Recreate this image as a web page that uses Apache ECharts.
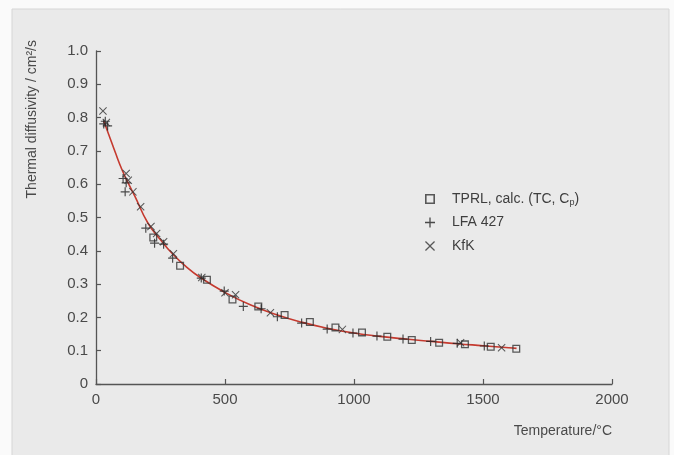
<!DOCTYPE html>
<html>
<head>
<meta charset="utf-8">
<script src="https://cdn.jsdelivr.net/npm/echarts@6/dist/echarts.min.js"></script>
<style>
html,body{margin:0;padding:0;background:#fafafa;}
#c{width:674px;height:455px;}
</style>
</head>
<body>
<div id="c"></div>
<script>
// ---- data (temperature °C, thermal diffusivity cm²/s) ----
const tprl = [[222,0.44],[326,0.355],[430,0.313],[529,0.254],[629,0.233],[731,0.207],[829,0.186],[928,0.170],[1031,0.155],[1129,0.142],[1224,0.132],[1330,0.124],[1430,0.119],[1530,0.112],[1629,0.106]];
const lfa = [[30,0.781],[36,0.789],[45,0.775],[105,0.617],[117,0.604],[113,0.577],[193,0.468],[227,0.423],[262,0.420],[297,0.378],[408,0.318],[497,0.279],[571,0.233],[640,0.226],[703,0.202],[797,0.183],[896,0.165],[996,0.153],[1089,0.144],[1190,0.135],[1297,0.128],[1400,0.122],[1505,0.114]];
const kfk = [[27,0.820],[40,0.785],[117,0.632],[125,0.612],[143,0.577],[173,0.532],[213,0.473],[235,0.452],[262,0.427],[300,0.391],[410,0.320],[500,0.274],[541,0.268],[676,0.214],[955,0.164],[1413,0.124],[1572,0.109]];
const fit = [[30,0.790],[50,0.748],[75,0.695],[100,0.645],[125,0.603],[150,0.565],[200,0.485],[250,0.433],[300,0.388],[350,0.352],[400,0.322],[500,0.275],[600,0.237],[700,0.208],[800,0.185],[900,0.167],[1000,0.153],[1100,0.143],[1200,0.135],[1300,0.128],[1400,0.121],[1500,0.115],[1600,0.109],[1630,0.107]];
const seriesNames = ['TPRL, calc. (TC, C{sub|p})', 'LFA 427', 'KfK'];
const xTicks = {min: 0, max: 2000, interval: 500};
const yTicks = {min: 0, max: 1, interval: 0.1};

const FONT = "'Liberation Sans', Arial, sans-serif";
const sqPath = 'path://M0,0H10V10H0Z M1.6,1.6V8.4H8.4V1.6Z';
const plusPath = 'path://M4.35,0H5.65V4.35H10V5.65H5.65V10H4.35V5.65H0V4.35H4.35Z';
const crossPath = 'path://M0,0.9L0.9,0L5,4.1L9.1,0L10,0.9L5.9,5L10,9.1L9.1,10L5,5.9L0.9,10L0,9.1L4.1,5Z';
const markColor = '#333333';

const chart = echarts.init(document.getElementById('c'), null, {renderer: 'canvas'});
chart.setOption({
  animation: false,
  backgroundColor: '#fafafa',
  graphic: [
    {type: 'rect', z: -10, shape: {x: 12, y: 9, width: 657, height: 450},
     style: {fill: '#eaeaea', stroke: '#d6d6d6', lineWidth: 1}},
    {type: 'text', x: 32, y: 40, rotation: Math.PI / 2,
     style: {text: 'Thermal diffusivity / cm\u00b2/s', fill: '#4a4a4a', font: '14px ' + FONT,
             textAlign: 'right', textVerticalAlign: 'middle'}},
    {type: 'text', x: 612, y: 431,
     style: {text: 'Temperature/\u00b0C', fill: '#4a4a4a', font: '14px ' + FONT,
             textAlign: 'right', textVerticalAlign: 'middle'}}
  ],
  grid: {left: 96, right: 62, top: 51, bottom: 71},
  legend: {
    orient: 'vertical', left: 420, top: 186, itemWidth: 10, itemHeight: 10, itemGap: 7.5,
    data: [
      {name: seriesNames[0], icon: sqPath},
      {name: seriesNames[1], icon: plusPath},
      {name: seriesNames[2], icon: crossPath}
    ],
    textStyle: {
      color: '#3e3e3e', fontSize: 14, fontFamily: FONT, lineHeight: 16, padding: [0, 0, 0, 12],
      rich: {sub: {fontSize: 9, fontFamily: FONT, color: '#3e3e3e', padding: [7, 0, 0, 0], lineHeight: 16}}
    }
  },
  xAxis: {
    type: 'value', min: xTicks.min, max: xTicks.max, interval: xTicks.interval,
    splitLine: {show: false},
    axisLine: {onZero: false, lineStyle: {color: '#555', width: 1.3}},
    axisTick: {inside: true, length: 5, lineStyle: {color: '#555', width: 1.2}},
    axisLabel: {color: '#4a4a4a', fontSize: 15, fontFamily: FONT, margin: 8,
      formatter: v => String(v)}
  },
  yAxis: {
    type: 'value', min: yTicks.min, max: yTicks.max, interval: yTicks.interval,
    splitLine: {show: false},
    axisLine: {show: true, onZero: false, lineStyle: {color: '#555', width: 1.3}},
    axisTick: {show: true, inside: true, length: 5, lineStyle: {color: '#555', width: 1.2}},
    axisLabel: {color: '#4a4a4a', fontSize: 15, fontFamily: FONT, margin: 8,
      formatter: v => v === 0 ? '0' : v.toFixed(1)}
  },
  series: [
    {name: 'fit', type: 'line', data: fit, smooth: true, showSymbol: false, z: 1,
     lineStyle: {color: '#c53a2f', width: 1.6}},
    {name: seriesNames[0], type: 'scatter', data: tprl, symbol: sqPath, symbolSize: 8, z: 3,
     itemStyle: {color: markColor}},
    {name: seriesNames[1], type: 'scatter', data: lfa, symbol: plusPath, symbolSize: 9, z: 3,
     itemStyle: {color: '#222222'}},
    {name: seriesNames[2], type: 'scatter', data: kfk, symbol: crossPath, symbolSize: 8, z: 3,
     itemStyle: {color: markColor}}
  ]
});
</script>
</body>
</html>
